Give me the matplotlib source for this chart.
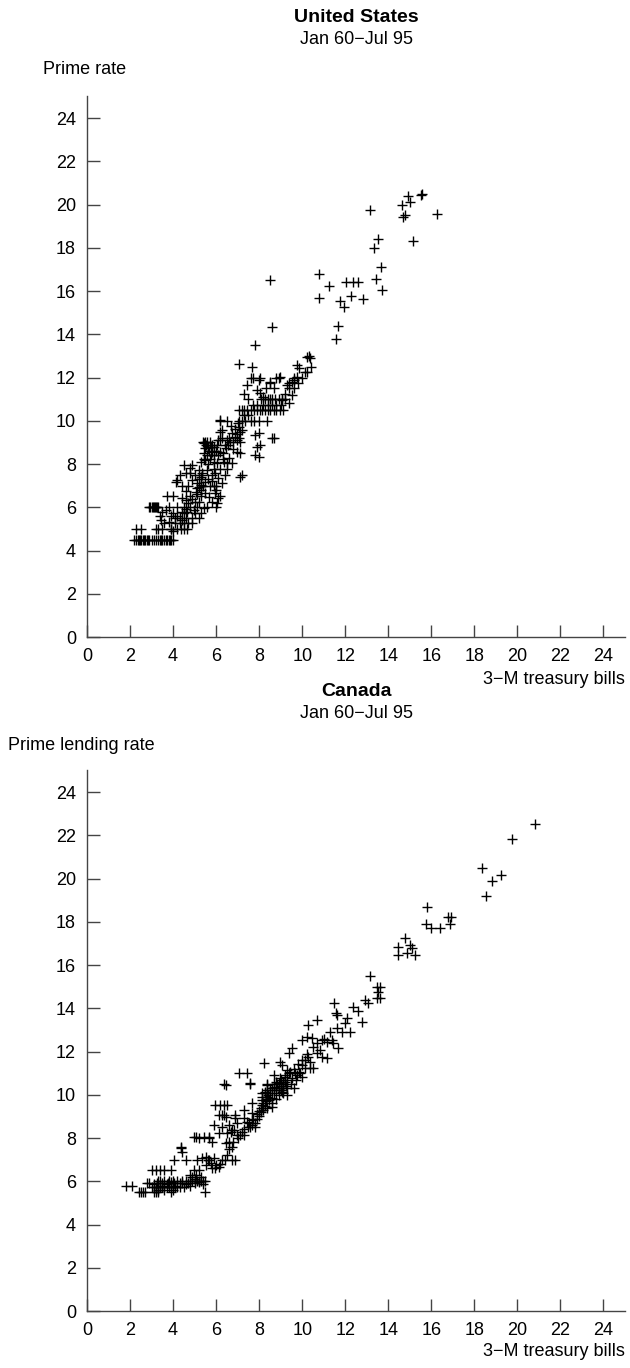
import matplotlib
matplotlib.use("Agg")
import matplotlib.pyplot as plt

plt.rcParams['font.family'] = ['Liberation Sans', 'DejaVu Sans']

ticks = [0, 2, 4, 6, 8, 10, 12, 14, 16, 18, 20, 22, 24]
x_label = "3\u2212M treasury bills"
period = "Jan 60\u2212Jul 95"

# ---------------- United States: (3-M T-bill, prime rate) ----------------
us_row_45 = [(2.2, 4.5), (2.3, 4.5), (2.35, 4.5), (2.4, 4.5), (2.45, 4.5), (2.5, 4.5), (2.6, 4.5),
             (2.65, 4.5), (2.7, 4.5), (2.8, 4.5), (2.85, 4.5), (2.9, 4.5), (3.0, 4.5), (3.1, 4.5),
             (3.2, 4.5), (3.3, 4.5), (3.4, 4.5), (3.45, 4.5), (3.5, 4.5), (3.6, 4.5), (3.65, 4.5),
             (3.7, 4.5), (3.8, 4.5), (3.85, 4.5), (3.9, 4.5), (4.0, 4.5)]
us_low = [(2.3, 5.0), (2.5, 5.0), (3.2, 5.0), (3.5, 5.0), (3.3, 5.0), (3.9, 5.0), (4.0, 4.9),
          (4.2, 5.0), (4.35, 5.0), (4.5, 5.0), (4.66, 5.0), (3.43, 5.4), (3.8, 5.33), (3.66, 5.87),
          (2.9, 6.0), (2.95, 6.0), (3.0, 6.0), (3.05, 6.0), (3.1, 6.0), (3.15, 6.0), (3.2, 6.0),
          (3.25, 6.0), (3.3, 6.0), (3.5, 5.8), (3.7, 6.5), (4.0, 6.5), (3.9, 5.6), (4.1, 5.5),
          (4.3, 5.5), (4.1, 5.25), (4.0, 5.75), (4.2, 6.0), (3.8, 6.0), (4.5, 6.0), (4.4, 5.8),
          (4.3, 5.25), (4.6, 5.5), (4.7, 5.25), (4.9, 5.5)]
us_mid = [(4.12, 7.18), (4.2, 7.26), (4.43, 6.42), (4.58, 6.33), (4.5, 7.95), (4.9, 7.95),
          (4.58, 7.58), (4.8, 7.58), (4.66, 5.8), (4.5, 5.73), (4.8, 6.0), (4.95, 5.87),
          (5.05, 6.72), (5.12, 6.88), (5.19, 6.95), (5.28, 7.41), (5.36, 7.58), (5.42, 5.96),
          (5.59, 6.03), (5.42, 8.97), (5.59, 9.03), (5.74, 8.8), (5.42, 8.5), (5.59, 8.4),
          (5.82, 8.57), (5.28, 8.1), (5.5, 8.18), (5.88, 8.1), (6.05, 8.03), (5.19, 7.72),
          (5.36, 7.49), (5.59, 7.72), (5.12, 7.1), (5.28, 7.03), (5.5, 7.18), (5.5, 6.65),
          (5.65, 6.49), (5.97, 7.58), (6.11, 7.35), (6.28, 7.1), (5.97, 6.65), (6.11, 6.42),
          (6.05, 6.19), (6.35, 8.1), (6.51, 8.03), (6.74, 8.03), (6.2, 8.57), (6.44, 8.74),
          (6.57, 8.88), (6.51, 9.1), (6.66, 9.03), (6.05, 8.88), (5.88, 8.8), (6.11, 9.1),
          (6.28, 9.2), (6.97, 8.57), (7.13, 8.5), (7.21, 7.49), (6.74, 9.43), (6.9, 9.26),
          (7.05, 9.73), (7.21, 9.57), (6.97, 9.1), (7.13, 9.03), (6.2, 10.03), (6.28, 9.57),
          (5.5, 9.0), (5.6, 8.75), (5.7, 9.0), (5.8, 8.9), (5.5, 8.75), (5.65, 8.6), (5.75, 8.4),
          (5.45, 8.25), (5.0, 5.75), (5.1, 6.0), (5.2, 6.25), (5.3, 6.5), (5.0, 6.25), (4.8, 6.5),
          (4.6, 6.75), (4.4, 7.0), (4.3, 7.5), (4.7, 7.0), (4.9, 7.25), (5.7, 7.0), (5.8, 7.5),
          (5.9, 7.75), (6.0, 7.0), (6.2, 7.75), (6.4, 7.5), (6.5, 7.75), (6.3, 8.25), (6.6, 8.3),
          (6.8, 8.7), (6.0, 6.0), (5.8, 6.25)]
us_fill = [(4.2, 5.6), (4.4, 5.4), (4.6, 5.9), (4.7, 6.2), (4.9, 6.4), (5.1, 6.6), (5.3, 6.8),
           (5.4, 7.0), (5.2, 7.3), (5.0, 7.5), (4.8, 7.8), (5.6, 7.3), (5.8, 7.2), (5.9, 7.0),
           (6.0, 6.8), (6.2, 6.5), (5.6, 8.0), (5.7, 8.25), (5.9, 8.4), (6.0, 8.6), (5.4, 9.0),
           (5.55, 8.9), (6.1, 8.4), (6.3, 8.5), (6.4, 8.9), (6.6, 9.2), (6.8, 9.0), (6.9, 9.6),
           (7.0, 9.9), (7.3, 10.25), (7.5, 10.25), (7.7, 10.75), (7.9, 10.75), (8.2, 10.75),
           (8.4, 10.75), (8.6, 10.75), (8.8, 10.75), (9.0, 10.75), (9.2, 11.25), (9.4, 11.5),
           (9.6, 11.5), (9.8, 11.75), (10.0, 12.0), (10.2, 12.25), (10.4, 12.5), (8.3, 11.5),
           (8.7, 11.5), (8.8, 12.0), (7.7, 12.0), (7.3, 11.25), (7.5, 11.0), (6.5, 10.0),
           (6.7, 9.75), (5.3, 5.75), (5.2, 5.5), (4.9, 5.25), (4.5, 5.25), (3.6, 5.25),
           (3.9, 5.0), (3.4, 5.6)]
us_upper = [(7.05, 10.5), (7.2, 10.5), (7.3, 10.5), (7.44, 10.5), (7.6, 10.5), (7.75, 10.5),
            (7.9, 10.5), (8.05, 10.5), (8.13, 10.5), (8.25, 10.5), (8.4, 10.5), (8.5, 10.5),
            (8.67, 10.5), (8.8, 10.5), (8.98, 10.5), (9.1, 10.5),
            (8.1, 11.0), (8.25, 11.0), (8.4, 11.0), (8.5, 11.0), (8.6, 11.0), (8.75, 11.0),
            (8.9, 11.0), (9.06, 11.0), (9.2, 11.0),
            (7.44, 11.65), (7.6, 11.96), (8.05, 11.96), (8.5, 11.8), (8.98, 12.04), (9.37, 11.73),
            (9.6, 11.88), (9.75, 12.04), (9.83, 12.42), (7.05, 12.62), (7.67, 12.5), (7.9, 11.4),
            (8.05, 11.27), (8.2, 11.1),
            (6.2, 10.0), (7.05, 10.0), (7.2, 10.0), (7.36, 10.0), (7.6, 10.0), (7.75, 10.0),
            (7.98, 10.0), (8.36, 10.0),
            (7.13, 9.5), (6.97, 9.4), (7.05, 9.18), (7.82, 9.34), (7.98, 9.42), (8.6, 9.18),
            (7.9, 8.8), (8.05, 8.88), (7.82, 8.42), (7.98, 8.34), (7.13, 7.41), (6.2, 9.1),
            (6.2, 9.5), (9.75, 12.58), (10.2, 12.96), (10.3, 13.0), (10.37, 12.88), (10.14, 12.27),
            (9.6, 11.96), (9.52, 11.81), (9.29, 11.65), (8.9, 11.96), (8.52, 11.73), (7.98, 11.88),
            (7.82, 13.5), (8.6, 14.35), (9.52, 11.19), (9.06, 10.96), (9.37, 10.81), (8.67, 9.18)]
us_high = [(8.52, 16.5), (10.8, 16.8), (11.25, 16.25), (10.8, 15.7), (12.04, 16.43),
           (12.35, 16.43), (12.58, 16.43), (12.27, 15.77), (11.76, 15.54), (11.94, 15.27),
           (12.83, 15.63), (11.67, 14.38), (11.57, 13.78), (13.15, 19.75), (13.5, 18.4),
           (13.35, 18.0), (15.15, 18.3), (13.64, 17.1), (13.43, 16.55), (13.7, 16.05),
           (14.9, 20.4), (15.5, 20.45), (15.55, 20.5), (14.66, 20.0), (15.0, 20.1), (14.7, 19.4),
           (14.8, 19.5), (16.25, 19.55)]

# ---------------- Canada: (3-M T-bill, prime lending rate) ----------------
ca_low = [(1.8, 5.8), (2.1, 5.8), (2.4, 5.5), (2.5, 5.5), (2.6, 5.5), (2.7, 5.5), (3.1, 5.5),
          (3.2, 5.5), (3.3, 5.5), (3.9, 5.5), (5.5, 5.5),
          (3.0, 5.75), (3.1, 5.75), (3.2, 5.75), (3.3, 5.75), (3.4, 5.75), (3.5, 5.75),
          (3.6, 5.75), (3.7, 5.75), (3.8, 5.75), (3.9, 5.75), (4.0, 5.75), (4.1, 5.75),
          (4.2, 5.75), (4.3, 5.75), (4.5, 5.75), (2.8, 5.9), (2.9, 5.9), (3.25, 5.9), (3.5, 5.9),
          (3.75, 5.9), (4.05, 5.9), (4.4, 5.9), (4.7, 5.9),
          (3.3, 6.0), (3.4, 6.0), (3.6, 6.0), (3.8, 6.0), (4.0, 6.0), (4.2, 6.0), (4.4, 6.0),
          (4.6, 6.0), (4.8, 6.0), (4.9, 6.0), (5.0, 6.0), (5.1, 6.0), (5.2, 6.0), (5.3, 6.0),
          (5.4, 6.0), (5.5, 6.0), (3.0, 6.5), (3.2, 6.5), (3.4, 6.5), (3.6, 6.5), (3.9, 6.5),
          (5.2, 6.5), (5.3, 6.2), (5.0, 6.1), (4.9, 6.2), (4.8, 6.3),
          (3.5, 5.8), (3.7, 5.85), (3.9, 5.95), (4.1, 5.8), (4.3, 5.9), (4.6, 5.85),
          (4.8, 5.8), (5.0, 5.9), (5.2, 5.95), (5.4, 5.85), (3.3, 5.6), (3.6, 5.6), (4.0, 5.6),
          (3.1, 5.85)]
ca_mid = [(4.35, 7.52), (4.43, 7.37), (4.04, 6.98), (4.58, 6.98), (4.97, 6.52), (5.05, 6.29),
          (5.12, 6.98), (5.36, 7.06), (5.51, 7.14), (5.66, 6.98), (5.51, 6.75), (5.74, 6.83),
          (5.97, 6.6), (6.13, 6.67), (5.9, 7.06), (6.28, 6.98), (6.74, 6.98), (6.9, 6.98),
          (6.44, 7.75), (6.59, 7.83), (6.74, 7.6), (4.97, 8.06), (5.2, 7.99), (5.43, 8.06),
          (5.66, 8.06), (5.82, 7.83), (6.13, 8.22), (6.67, 8.29), (6.82, 8.37), (5.9, 8.6),
          (6.28, 8.52), (6.59, 8.6), (7.21, 8.29), (7.13, 8.14), (7.51, 8.68), (7.67, 8.83),
          (7.82, 8.68), (6.9, 9.06), (7.28, 8.91), (6.13, 9.06), (6.28, 9.06), (6.44, 8.99),
          (6.36, 9.06), (7.28, 9.29), (7.67, 9.14), (6.9, 8.91), (6.97, 8.68), (7.44, 8.76),
          (7.59, 8.52), (7.67, 8.6), (6.51, 8.22), (6.74, 8.37), (6.97, 8.14), (7.28, 8.14),
          (5.05, 8.03), (5.66, 7.99), (4.35, 7.57),
          (7.9, 9.1), (7.7, 8.9), (7.5, 8.5), (7.3, 8.4), (7.0, 8.0), (6.8, 7.8), (6.6, 7.5),
          (6.5, 7.2), (6.4, 7.0), (6.2, 6.8), (6.0, 6.75), (5.8, 6.6), (5.6, 7.0)]
ca_band = [(8.13, 9.53), (8.36, 9.37), (8.6, 9.45), (8.13, 9.91), (8.29, 10.07), (8.44, 9.76),
           (8.6, 9.84), (7.67, 9.6), (5.97, 9.53), (6.2, 9.53), (6.36, 9.53), (6.51, 9.53),
           (6.36, 10.5), (7.59, 10.5), (8.36, 10.5), (8.1, 9.2), (8.2, 9.3), (8.25, 9.5),
           (8.3, 9.7), (8.15, 9.75), (8.35, 9.9), (8.0, 9.0), (7.9, 8.9), (7.8, 8.5),
           (8.8, 10.2), (8.9, 10.3), (9.0, 10.4), (9.1, 10.5), (9.2, 10.6), (9.0, 10.2),
           (9.1, 10.3), (8.85, 10.5), (9.25, 10.4), (8.13, 10.07), (8.36, 10.22), (8.67, 10.07),
           (8.29, 10.14), (8.52, 10.07), (8.9, 10.22), (9.06, 10.14), (9.29, 9.99), (9.6, 10.3),
           (8.36, 10.45), (8.67, 10.37), (8.9, 10.53), (9.13, 10.6), (9.29, 10.68), (9.52, 10.76),
           (9.75, 10.91), (9.98, 10.83), (8.67, 10.91), (8.98, 10.76), (9.21, 10.83),
           (7.05, 10.99), (7.44, 10.99), (7.59, 10.53), (6.44, 10.45), (9.29, 11.14),
           (9.44, 11.07), (9.68, 10.99), (9.83, 11.07), (9.98, 11.38), (10.14, 11.22),
           (10.37, 11.22), (10.52, 11.22), (8.21, 11.45), (8.98, 11.53), (9.06, 11.38),
           (10.29, 11.76), (10.14, 11.61), (10.37, 11.53), (10.83, 12.07), (10.68, 11.92),
           (10.91, 11.76), (11.14, 11.69), (9.52, 12.15), (9.37, 11.92), (11.68, 12.15),
           (10.91, 12.53), (11.14, 12.45), (11.37, 12.53), (9.98, 12.53), (10.21, 12.69),
           (10.44, 12.61), (11.6, 13.07), (11.84, 12.92), (11.57, 13.77), (10.29, 13.23),
           (10.7, 13.46), (11.48, 14.26), (11.6, 13.69), (12.07, 13.53), (12.38, 14.07),
           (12.61, 13.89), (12.76, 13.38), (12.2, 12.9), (12.0, 13.3), (11.45, 12.38),
           (8.0, 9.25), (8.1, 9.4), (8.2, 9.6), (8.3, 9.8), (8.4, 10.0), (8.5, 10.2), (8.6, 10.3),
           (8.7, 10.5), (8.8, 10.6), (9.0, 10.7), (9.2, 10.9), (9.4, 11.0), (9.6, 11.2),
           (9.8, 11.4), (10.0, 11.6), (10.2, 11.9), (10.5, 12.2), (10.7, 12.4), (11.0, 12.6),
           (11.3, 12.9), (8.9, 10.0), (9.1, 10.1), (9.3, 10.3), (9.5, 10.5), (9.7, 10.7),
           (9.9, 11.0), (8.6, 9.6), (8.8, 9.8)]
ca_high = [(12.92, 14.38), (13.07, 14.23), (13.46, 15.0), (13.61, 15.0), (13.53, 14.77),
           (13.46, 14.46), (13.61, 14.46), (13.15, 15.49), (14.77, 17.23), (14.46, 16.85),
           (15.0, 16.93), (15.08, 16.77), (14.46, 16.46), (14.85, 16.54), (15.23, 16.46),
           (15.82, 18.7), (15.77, 17.88), (16.0, 17.73), (16.39, 17.73), (16.78, 18.23),
           (16.93, 18.23), (16.85, 17.9), (18.55, 19.19), (18.83, 19.9), (19.25, 20.16),
           (18.37, 20.47), (19.75, 21.83), (20.8, 22.5)]

us_points = us_row_45 + us_low + us_mid + us_fill + us_upper + us_high
ca_points = ca_low + ca_mid + ca_band + ca_high

W, H = 630, 1368
fig = plt.figure(figsize=(W / 100, H / 100), dpi=100)

FS = 13
spine_col = '#444444'


def px(x):
    return x / W


def py(y):
    return 1 - y / H


def make_axes(bottom_px, top_px, pts, title, ylabel, ylabel_x, title_y, sub_y, ylab_y, xlab_y):
    ax = fig.add_axes([px(87), py(bottom_px), px(625) - px(87), (bottom_px - top_px) / H])
    xs = [p[0] for p in pts]
    ys = [p[1] for p in pts]
    ax.plot(xs, ys, linestyle='none', marker='+', markersize=7, markeredgewidth=1.0,
            color='black', clip_on=False)
    ax.set_xlim(0, 25)
    ax.set_ylim(0, 25)
    ax.set_xticks(ticks)
    ax.set_yticks(ticks)
    for s in ['top', 'right']:
        ax.spines[s].set_visible(False)
    for s in ['left', 'bottom']:
        ax.spines[s].set_color(spine_col)
        ax.spines[s].set_linewidth(1.0)
    ax.tick_params(direction='in', length=9, width=1.0, color=spine_col,
                   labelsize=FS, pad=8)
    fig.text(px(356), py(title_y), title, ha='center', va='center',
             fontsize=FS + 1, fontweight='bold')
    fig.text(px(356), py(sub_y), period, ha='center', va='center', fontsize=FS)
    fig.text(px(ylabel_x), py(ylab_y), ylabel, ha='left', va='center', fontsize=FS)
    fig.text(px(625), py(xlab_y), x_label, ha='right', va='center', fontsize=FS)
    return ax


make_axes(637, 96.4, us_points, 'United States', 'Prime rate', 43, 18, 40, 70, 680)
make_axes(1311, 770.4, ca_points, 'Canada', 'Prime lending rate', 8, 691, 713, 745, 1352)

fig.savefig('out.png', dpi=100, facecolor='white')
